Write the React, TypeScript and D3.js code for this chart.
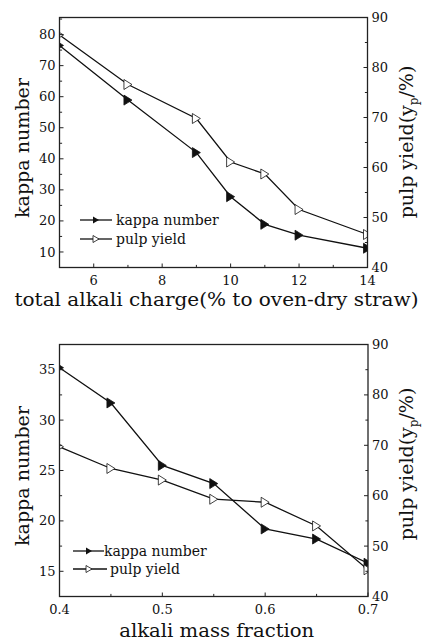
import React from "react";
import * as d3 from "d3";

// Top chart data
const chargeX = [5, 7, 9, 10, 11, 12, 14];
const chargeKappa = [76.5, 58.9, 42.0, 27.8, 18.9, 15.4, 11.2];
const chargeYield = [86.5, 76.6, 69.8, 61.1, 58.7, 51.6, 46.6];
const chargeTicks = [6, 8, 10, 12, 14];
const chargeMinor = [5, 7, 9, 11, 13];
const kappaTicksTop = [10, 20, 30, 40, 50, 60, 70, 80];
const kappaMinorTop = [15, 25, 35, 45, 55, 65, 75, 85];

// Bottom chart data
const fracX = [0.4, 0.45, 0.5, 0.55, 0.6, 0.65, 0.7];
const fracKappa = [35.2, 31.7, 25.5, 23.7, 19.2, 18.2, 15.8];
const fracYield = [69.7, 65.4, 63.1, 59.3, 58.7, 54.0, 45.3];
const fracTicks = [0.4, 0.5, 0.6, 0.7];
const fracMinor = [0.45, 0.55, 0.65];
const kappaTicksBot = [15, 20, 25, 30, 35];
const kappaMinorBot = [17.5, 22.5, 27.5, 32.5];

const yieldTicks = [40, 50, 60, 70, 80, 90];
const yieldMinor = [45, 55, 65, 75, 85];

const FONT = "'DejaVu Serif', serif";

type PanelProps = {
  id: string;
  left: number; right: number; top: number; bottom: number;
  xDomain: [number, number];
  yLDomain: [number, number];
  xs: number[]; kappa: number[]; yld: number[];
  xTicks: number[]; xMinor: number[];
  yTicks: number[]; yMinor: number[];
  xFmt: (v: number) => string;
  xTitle: string; xTitleY: number; xTitleLen: number;
  leftLabelX: number; leftLabelY: number;
  rightLabelX: number; rightLabelY: number;
  legend: { lx1: number; lx2: number; mx: number; tx1: number; tx2: number; lx2b: number; y1: number; y2: number };
};

function triPath(cx: number, cy: number, w: number, h: number) {
  return `M${cx - w / 2},${cy - h / 2}L${cx + w / 2},${cy}L${cx - w / 2},${cy + h / 2}Z`;
}

function Panel(p: PanelProps) {
  const x = d3.scaleLinear().domain(p.xDomain).range([p.left, p.right]);
  const yl = d3.scaleLinear().domain(p.yLDomain).range([p.bottom, p.top]);
  const yr = d3.scaleLinear().domain([40, 90]).range([p.bottom, p.top]);
  const kLine = d3.line<number>().x((_, i) => x(p.xs[i])).y((d) => yl(d));
  const yLine = d3.line<number>().x((_, i) => x(p.xs[i])).y((d) => yr(d));
  const clipId = `clip-${p.id}`;
  const MAJ = 4, MIN = 2.6;
  return (
    <g>
      <defs>
        <clipPath id={clipId}>
          <rect x={p.left} y={p.top} width={p.right - p.left} height={p.bottom - p.top} />
        </clipPath>
      </defs>
      <g clipPath={`url(#${clipId})`}>
        <path d={kLine(p.kappa) || ""} fill="none" stroke="#111" strokeWidth={1.3} />
        <path d={yLine(p.yld) || ""} fill="none" stroke="#111" strokeWidth={1.3} />
        {p.kappa.map((v, i) => (
          <path key={"k" + i} d={triPath(x(p.xs[i]), yl(v), 8, 10)} fill="#111" stroke="#111" strokeWidth={0.8} />
        ))}
        {p.yld.map((v, i) => (
          <path key={"y" + i} d={triPath(x(p.xs[i]), yr(v), 8, 10)} fill="#fff" stroke="#111" strokeWidth={0.8} />
        ))}
      </g>
      <rect x={p.left} y={p.top} width={p.right - p.left} height={p.bottom - p.top} fill="none" stroke="#222" strokeWidth={1.3} />
      {/* x ticks */}
      {p.xTicks.map((t) => (
        <g key={"xt" + t}>
          <line x1={x(t)} x2={x(t)} y1={p.bottom} y2={p.bottom - MAJ} stroke="#222" strokeWidth={1} />
          <text x={x(t)} y={p.bottom + 17} textAnchor="middle" fontFamily={FONT} fontSize={13} fill="#111">{p.xFmt(t)}</text>
        </g>
      ))}
      {p.xMinor.map((t) => (
        <line key={"xm" + t} x1={x(t)} x2={x(t)} y1={p.bottom} y2={p.bottom - MIN} stroke="#222" strokeWidth={1} />
      ))}
      {/* left ticks */}
      {p.yTicks.map((t) => (
        <g key={"yt" + t}>
          <line x1={p.left} x2={p.left + MAJ} y1={yl(t)} y2={yl(t)} stroke="#222" strokeWidth={1} />
          <text x={p.left - 4} y={yl(t)} dy="0.35em" textAnchor="end" fontFamily={FONT} fontSize={13} fill="#111">{t}</text>
        </g>
      ))}
      {p.yMinor.map((t) => (
        <line key={"ym" + t} x1={p.left} x2={p.left + MIN} y1={yl(t)} y2={yl(t)} stroke="#222" strokeWidth={1} />
      ))}
      {/* right ticks */}
      {yieldTicks.map((t) => (
        <g key={"rt" + t}>
          <line x1={p.right} x2={p.right - MAJ} y1={yr(t)} y2={yr(t)} stroke="#222" strokeWidth={1} />
          <text x={p.right + 4} y={yr(t)} dy="0.35em" textAnchor="start" fontFamily={FONT} fontSize={13} fill="#111">{t}</text>
        </g>
      ))}
      {yieldMinor.map((t) => (
        <line key={"rm" + t} x1={p.right} x2={p.right - MIN} y1={yr(t)} y2={yr(t)} stroke="#222" strokeWidth={1} />
      ))}
      {/* axis titles */}
      <text x={(p.left + p.right) / 2 + 3} y={p.xTitleY} textAnchor="middle" fontFamily={FONT} fontSize={18} fill="#111"
        textLength={p.xTitleLen} lengthAdjust="spacingAndGlyphs">{p.xTitle}</text>
      <text transform={`translate(${p.leftLabelX},${p.leftLabelY}) rotate(-90)`} textAnchor="middle" fontFamily={FONT}
        fontSize={19} fill="#111" textLength={140} lengthAdjust="spacingAndGlyphs">kappa number</text>
      <text transform={`translate(${p.rightLabelX},${p.rightLabelY}) rotate(-90)`} textAnchor="middle" fontFamily={FONT}
        fontSize={19} fill="#111">
        pulp yield(y<tspan fontSize={12} dy={5}>p</tspan><tspan dy={-5}>/%)</tspan>
      </text>
      {/* legend */}
      <line x1={p.legend.lx1} x2={p.legend.lx2} y1={p.legend.y1} y2={p.legend.y1} stroke="#111" strokeWidth={1.3} />
      <path d={triPath(p.legend.mx, p.legend.y1, 6, 7)} fill="#111" />
      <text x={p.legend.tx1} y={p.legend.y1} dy="0.35em" fontFamily={FONT} fontSize={14} fill="#111">kappa number</text>
      <line x1={p.legend.lx1} x2={p.legend.lx2b} y1={p.legend.y2} y2={p.legend.y2} stroke="#111" strokeWidth={1.3} />
      <path d={triPath(p.legend.mx, p.legend.y2, 6, 7)} fill="#fff" stroke="#111" strokeWidth={0.8} />
      <text x={p.legend.tx2} y={p.legend.y2} dy="0.35em" fontFamily={FONT} fontSize={14} fill="#111">pulp yield</text>
    </g>
  );
}

export default function App() {
  return (
    <svg width={425} height={642} style={{ position: "absolute", left: 0, top: 0, background: "#fff" }}>
      <rect width={425} height={642} fill="#fff" />
      <Panel
        id="top"
        left={59.5} right={367.5} top={17.5} bottom={267.5}
        xDomain={[5, 14]} yLDomain={[5, 85.5]}
        xs={chargeX} kappa={chargeKappa} yld={chargeYield}
        xTicks={chargeTicks} xMinor={chargeMinor}
        yTicks={kappaTicksTop} yMinor={kappaMinorTop}
        xFmt={(v) => String(v)}
        xTitle="total alkali charge(% to oven-dry straw)" xTitleY={306} xTitleLen={404}
        leftLabelX={29} leftLabelY={148}
        rightLabelX={413} rightLabelY={142}
        legend={{ lx1: 80, lx2: 112, lx2b: 112, mx: 96, tx1: 116, tx2: 116, y1: 220, y2: 239 }}
      />
      <Panel
        id="bot"
        left={59.5} right={368} top={344.5} bottom={596.5}
        xDomain={[0.4, 0.7]} yLDomain={[12.5, 37.5]}
        xs={fracX} kappa={fracKappa} yld={fracYield}
        xTicks={fracTicks} xMinor={fracMinor}
        yTicks={kappaTicksBot} yMinor={kappaMinorBot}
        xFmt={(v) => d3.format(".1f")(v)}
        xTitle="alkali mass fraction" xTitleY={637} xTitleLen={195}
        leftLabelX={29} leftLabelY={476}
        rightLabelX={413} rightLabelY={464}
        legend={{ lx1: 73, lx2: 104, lx2b: 107, mx: 89, tx1: 104, tx2: 110, y1: 551, y2: 569 }}
      />
    </svg>
  );
}
